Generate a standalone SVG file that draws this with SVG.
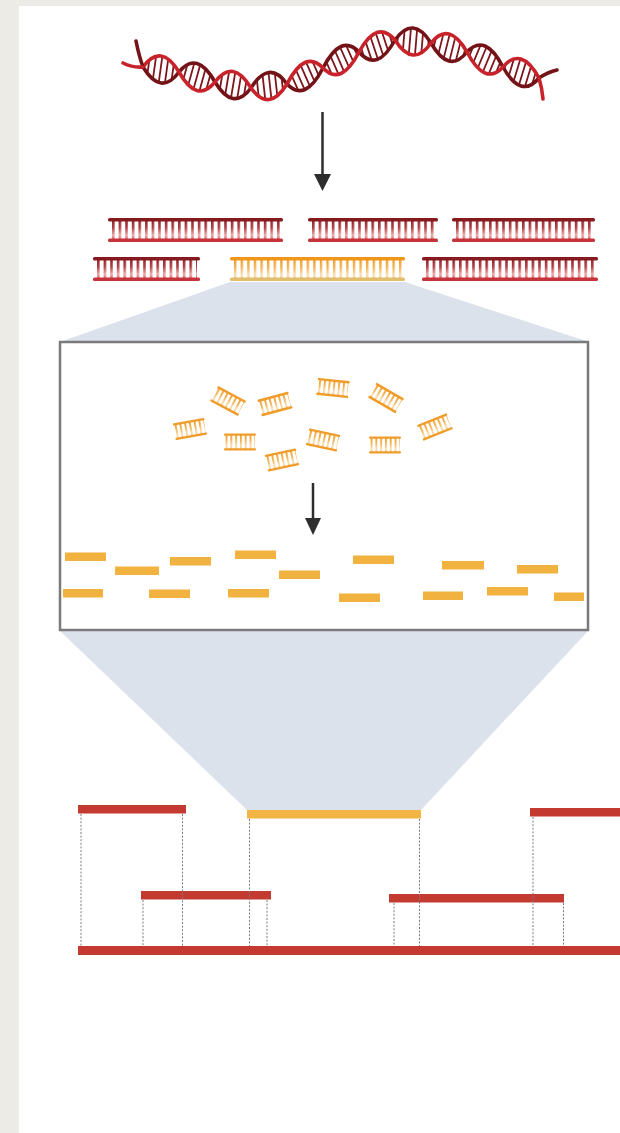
<svg xmlns="http://www.w3.org/2000/svg" width="620" height="1133" viewBox="0 0 620 1133">
  <style>
    .strand-a { fill: none; stroke: #c8232b; stroke-width: 3.6; stroke-linecap: round; }
    .strand-b { fill: none; stroke: #741317; stroke-width: 3.6; stroke-linecap: round; }
    .rail-red-top { fill: #861a1f; }
    .rail-red-bot { fill: #c6333a; }
    .rail-or-top { fill: #f0961a; }
    .rail-or-bot { fill: #e2bd6c; }
    .rail-sm { fill: #f09c2a; }
    .read { fill: #f1b240; }
    .bar-red { fill: #c33a31; }
    .bar-or { fill: #f2b445; }
    .shade { fill: #dbe2ec; }
    .guide { stroke: #7c7c7c; stroke-width: 1; stroke-dasharray: 2 1.6; fill: none; }
    .arrow { stroke: #2d2d2d; stroke-width: 2.5; fill: none; }
    .head { fill: #2d2d2d; }
  </style>
  <defs>
    <linearGradient id="rungRed" x1="0" y1="0" x2="0" y2="1">
      <stop offset="0" stop-color="#861c21"/>
      <stop offset="0.4" stop-color="#b23f45"/>
      <stop offset="0.72" stop-color="#eeaaaa"/>
      <stop offset="1" stop-color="#cc3a3c"/>
    </linearGradient>
    <linearGradient id="rungOr" x1="0" y1="0" x2="0" y2="1">
      <stop offset="0" stop-color="#f0961a"/>
      <stop offset="0.45" stop-color="#f3b55a"/>
      <stop offset="0.75" stop-color="#fbe0b6"/>
      <stop offset="1" stop-color="#e8b25a"/>
    </linearGradient>
    <pattern id="rungsRed" patternUnits="userSpaceOnUse" x="4" y="0" width="6.6" height="24">
      <rect x="0" y="0" width="2.6" height="24" fill="url(#rungRed)"/>
    </pattern>
    <pattern id="rungsOr" patternUnits="userSpaceOnUse" x="4" y="0" width="6.6" height="24">
      <rect x="0" y="0" width="2.4" height="24" fill="url(#rungOr)"/>
    </pattern>
    <pattern id="rungsSm" patternUnits="userSpaceOnUse" x="0" y="-8" width="4.8" height="16">
      <rect x="0" y="0" width="1.8" height="16" fill="url(#rungOr)"/>
    </pattern>
    <clipPath id="helixClip">
      <path d="M143,67 C155,50.7 167,52.3 179,72 C191,93.3 203,96.7 215,82 C227,66 239,68 251,88 C263,104.7 275,103.3 287,84 C299,60.7 311,55.3 323,68 C335,80.7 347,75.3 359,52 C371,30 383,26 395,40 C407,59 419,60 431,43 C443,28 455,31 467,52 C479,75 491,80 503,67 C515,52.7 527,56.3 539,78 C527,92.3 515,88.7 503,67 C491,44 479,39 467,52 C455,67 443,64 431,43 C419,24 407,23 395,40 C383,62 371,66 359,52 C347,39.3 335,44.7 323,68 C311,91.3 299,96.7 287,84 C275,67.3 263,68.7 251,88 C239,104 227,102 215,82 C203,60.7 191,57.3 179,72 C167,88.3 155,86.7 143,67 Z"/>
    </clipPath>
    <!-- small fragment used inside the box -->
    <g id="smallLadder">
      <rect x="-15" y="-7" width="30" height="14" fill="url(#rungsSm)"/>
      <rect class="rail-sm" x="-16" y="-8.6" width="32" height="2.4" rx="1"/>
      <rect class="rail-sm" x="-16" y="6.2" width="32" height="2.4" rx="1"/>
    </g>
  </defs>

  <!-- paper and panel -->
  <rect x="0" y="0" width="620" height="1133" fill="#ecebe6"/>
  <rect x="19" y="6" width="601" height="1127" fill="#ffffff"/>

  <!-- genome double helix -->
  <g id="helix">
    <path d="M123,63 L143,67 L179,72 L215,82 L251,88 L287,84 L323,68 L359,52 L395,40 L431,43 L467,52 L503,67 L539,78" clip-path="url(#helixClip)" fill="none" stroke="#7e171c" stroke-width="34" stroke-dasharray="1.8 4.4"/>
    <path class="strand-b" d="M143,67 C155,86.7 167,88.3 179,72 C191,57.3 203,60.7 215,82 C227,102 239,104 251,88 C263,68.7 275,67.3 287,84 C299,96.7 311,91.3 323,68 C335,44.7 347,39.3 359,52 C371,66 383,62 395,40 C407,23 419,24 431,43 C443,64 455,67 467,52 C479,39 491,44 503,67 C515,88.7 527,92.3 539,78"/>
    <path class="strand-a" d="M143,67 C155,50.7 167,52.3 179,72 C191,93.3 203,96.7 215,82 C227,66 239,68 251,88 C263,104.7 275,103.3 287,84 C299,60.7 311,55.3 323,68 C335,80.7 347,75.3 359,52 C371,30 383,26 395,40 C407,59 419,60 431,43 C443,28 455,31 467,52 C479,75 491,80 503,67 C515,52.7 527,56.3 539,78"/>
    <path class="strand-b" d="M143,67 Q139,56 136,41"/>
    <path class="strand-a" d="M143,67 Q133,68 123,63"/>
    <path class="strand-b" d="M539,78 Q548,72 557,70"/>
    <path class="strand-a" d="M539,78 Q542,88 543,99"/>
  </g>

  <!-- shaded zoom areas -->
  <g id="zoom-top">
    <polygon class="shade" points="230,282 405,282 589,342 60,342"/>
  </g>
  <g id="zoom-bottom">
    <polygon class="shade" points="60,631 588,631 421,810 247,810"/>
  </g>

  <!-- sheared fragments -->
  <g id="fragments">
    <g id="frag-1" transform="translate(108,218)">
      <rect x="3" y="2" width="169" height="20" fill="url(#rungsRed)"/>
      <rect class="rail-red-top" x="0" y="0" width="175" height="3.5" rx="1.5"/>
      <rect class="rail-red-bot" x="0" y="20.5" width="175" height="3.5" rx="1.5"/>
    </g>
    <g id="frag-2" transform="translate(308,218)">
      <rect x="3" y="2" width="124" height="20" fill="url(#rungsRed)"/>
      <rect class="rail-red-top" x="0" y="0" width="130" height="3.5" rx="1.5"/>
      <rect class="rail-red-bot" x="0" y="20.5" width="130" height="3.5" rx="1.5"/>
    </g>
    <g id="frag-3" transform="translate(452,218)">
      <rect x="3" y="2" width="137" height="20" fill="url(#rungsRed)"/>
      <rect class="rail-red-top" x="0" y="0" width="143" height="3.5" rx="1.5"/>
      <rect class="rail-red-bot" x="0" y="20.5" width="143" height="3.5" rx="1.5"/>
    </g>
    <g id="frag-4" transform="translate(93,257)">
      <rect x="3" y="2" width="101" height="20" fill="url(#rungsRed)"/>
      <rect class="rail-red-top" x="0" y="0" width="107" height="3.5" rx="1.5"/>
      <rect class="rail-red-bot" x="0" y="20.5" width="107" height="3.5" rx="1.5"/>
    </g>
    <g id="frag-selected" transform="translate(230,257)">
      <rect x="3" y="2" width="169" height="20" fill="url(#rungsOr)"/>
      <rect class="rail-or-top" x="0" y="0" width="175" height="3.5" rx="1.5"/>
      <rect class="rail-or-bot" x="0" y="20.5" width="175" height="3.5" rx="1.5"/>
    </g>
    <g id="frag-6" transform="translate(422,257)">
      <rect x="3" y="2" width="170" height="20" fill="url(#rungsRed)"/>
      <rect class="rail-red-top" x="0" y="0" width="176" height="3.5" rx="1.5"/>
      <rect class="rail-red-bot" x="0" y="20.5" width="176" height="3.5" rx="1.5"/>
    </g>
  </g>

  <!-- close-up box -->
  <g id="box">
    <rect x="60" y="342" width="528" height="288" fill="#ffffff" stroke="#7a7a7a" stroke-width="2.5"/>
  </g>

  <g id="pieces">
    <use href="#smallLadder" transform="translate(228,401) rotate(28)"/>
    <use href="#smallLadder" transform="translate(275,404) rotate(-15)"/>
    <use href="#smallLadder" transform="translate(333,388) rotate(6)"/>
    <use href="#smallLadder" transform="translate(386,398) rotate(30)"/>
    <use href="#smallLadder" transform="translate(190,429) rotate(-10)"/>
    <use href="#smallLadder" transform="translate(240,442)"/>
    <use href="#smallLadder" transform="translate(282,460) rotate(-12)"/>
    <use href="#smallLadder" transform="translate(323,440) rotate(12)"/>
    <use href="#smallLadder" transform="translate(385,445)"/>
    <use href="#smallLadder" transform="translate(435,427) rotate(-22)"/>
  </g>

  <g id="reads">
    <rect class="read" x="65" y="552.5" width="41" height="8.5"/>
    <rect class="read" x="115" y="566.5" width="44" height="8.5"/>
    <rect class="read" x="170" y="557" width="41" height="8.5"/>
    <rect class="read" x="235" y="550.5" width="41" height="8.5"/>
    <rect class="read" x="279" y="570.5" width="41" height="8.5"/>
    <rect class="read" x="353" y="555.5" width="41" height="8.5"/>
    <rect class="read" x="442" y="561" width="42" height="8.5"/>
    <rect class="read" x="517" y="565" width="41" height="8.5"/>
    <rect class="read" x="63" y="589" width="40" height="8.5"/>
    <rect class="read" x="149" y="589.5" width="41" height="8.5"/>
    <rect class="read" x="228" y="589" width="41" height="8.5"/>
    <rect class="read" x="339" y="593.5" width="41" height="8.5"/>
    <rect class="read" x="423" y="591.5" width="40" height="8.5"/>
    <rect class="read" x="487" y="587" width="41" height="8.5"/>
    <rect class="read" x="554" y="592.5" width="30" height="8.5"/>
  </g>

  <!-- assembled contigs -->
  <g id="assembly">
    <rect class="bar-red" x="78" y="805" width="108" height="8.5"/>
    <rect class="bar-or" x="247" y="810" width="174" height="8.5"/>
    <rect class="bar-red" x="530" y="808" width="90" height="8.5"/>
    <rect class="bar-red" x="141" y="891" width="130" height="8.5"/>
    <rect class="bar-red" x="389" y="894" width="175" height="8.5"/>
    <rect class="bar-red" x="78" y="946" width="542" height="9"/>
  </g>

  <g id="connectors">
    <line class="arrow" x1="322.5" y1="112" x2="322.5" y2="177"/>
    <polygon class="head" points="314,174 331,174 322.5,191"/>
    <line class="arrow" x1="313" y1="483" x2="313" y2="521"/>
    <polygon class="head" points="305,518 321,518 313,535"/>
    <line class="guide" x1="81" y1="814" x2="81" y2="946"/>
    <line class="guide" x1="182.5" y1="814" x2="182.5" y2="946"/>
    <line class="guide" x1="143" y1="900" x2="143" y2="946"/>
    <line class="guide" x1="249.5" y1="819" x2="249.5" y2="946"/>
    <line class="guide" x1="267" y1="900" x2="267" y2="946"/>
    <line class="guide" x1="394" y1="903" x2="394" y2="946"/>
    <line class="guide" x1="419.5" y1="819" x2="419.5" y2="946"/>
    <line class="guide" x1="533" y1="817" x2="533" y2="946"/>
    <line class="guide" x1="563.5" y1="903" x2="563.5" y2="946"/>
  </g>
</svg>
